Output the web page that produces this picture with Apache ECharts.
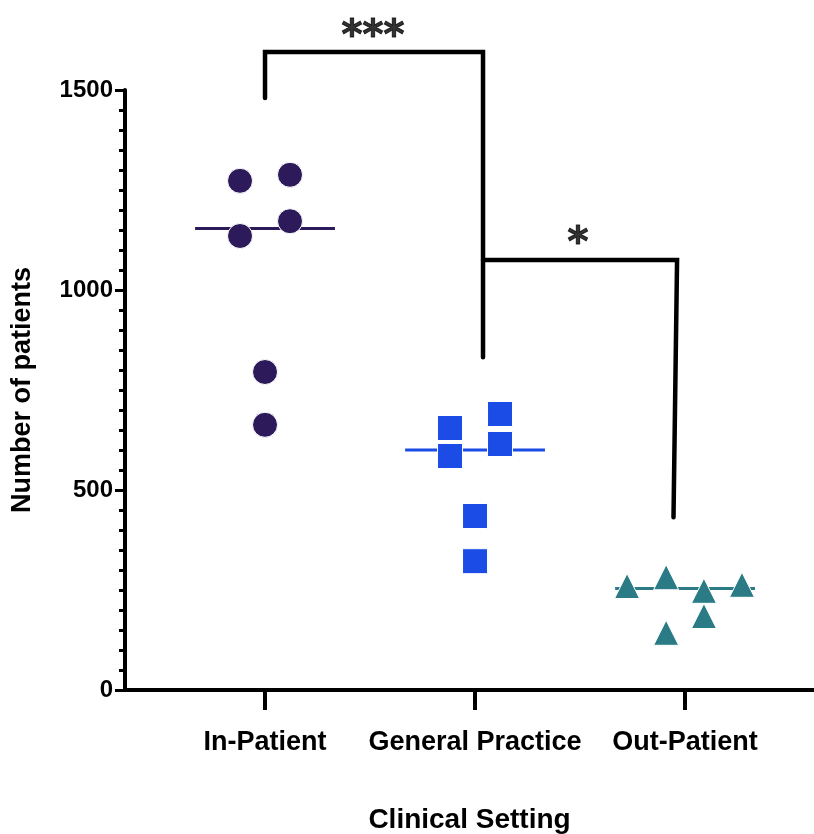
<!DOCTYPE html>
<html>
<head>
<meta charset="utf-8">
<script src="https://cdn.jsdelivr.net/npm/echarts@6/dist/echarts.min.js"></script>
<style>
html,body{margin:0;padding:0;background:#fff;}
#chart{width:814px;height:834px;}
</style>
</head>
<body>
<div id="chart"></div>
<script>
// ---- data ----
const categories = ['In-Patient', 'General Practice', 'Out-Patient'];
const yTicks = [0, 500, 1000, 1500];
const inPatientValues = [1273, 1288, 1135, 1172, 795, 663];
const inPatientJitter = [-0.119, 0.119, -0.119, 0.119, 0, 0];
const generalPracticeValues = [655, 585, 690, 615, 435, 322];
const generalPracticeJitter = [-0.119, -0.119, 0.119, 0.119, 0, 0];
const outPatientValues = [260, 282, 248, 263, 185, 143];
const outPatientJitter = [-0.276, -0.09, 0.09, 0.271, 0.09, -0.09];
const bracketHigh = [[1, 1480], [1, 1595], [2.038, 1595], [2.038, 832]];
const bracketLow = [[2.038, 1075], [2.962, 1075], [2.945, 432]];
const sigLabels = [['***', 1.514, 1631], ['*', 2.49, 1114]];

// ---- build ----
const FONT = '"Liberation Sans", Arial, Helvetica, sans-serif';
const groups = [
  {name: categories[0], values: inPatientValues, jitter: inPatientJitter, symbol: 'circle', color: '#2C1A5A'},
  {name: categories[1], values: generalPracticeValues, jitter: generalPracticeJitter, symbol: 'rect', color: '#1B4DE6'},
  {name: categories[2], values: outPatientValues, jitter: outPatientJitter, symbol: 'triangle', color: '#2A7B85'}
];
function median(arr) {
  const s = arr.slice().sort((a, b) => a - b);
  const n = s.length;
  return n % 2 ? s[(n - 1) / 2] : (s[n / 2 - 1] + s[n / 2]) / 2;
}
const HALF = 0.333;
const series = [];
groups.forEach((g, gi) => {
  const c = gi + 1;
  const m = median(g.values);
  series.push({
    type: 'line', name: g.name + ' median', data: [[c - HALF, m], [c + HALF, m]],
    symbol: 'none', lineStyle: {color: g.color, width: 3}, z: 2, silent: true
  });
  series.push({
    type: 'scatter', name: g.name,
    data: g.values.map((v, i) => [c + g.jitter[i], v]),
    symbol: g.symbol, symbolSize: 25,
    itemStyle: {color: g.color, borderColor: '#ffffff', borderWidth: 1, opacity: 1},
    z: 3
  });
});
[bracketHigh, bracketLow].forEach((b) => {
  series.push({
    type: 'line', data: b, symbol: 'none', clip: false,
    lineStyle: {color: '#000', width: 4.5, cap: 'round', join: 'miter'}, z: 4, silent: true
  });
});
series.push({
  type: 'scatter', clip: false, symbol: 'circle', symbolSize: 2,
  itemStyle: {color: 'rgba(0,0,0,0)'},
  data: sigLabels.map(s => ({value: [s[1], s[2]], name: s[0]})),
  label: {show: true, position: 'inside', formatter: p => p.name, color: '#000',
    fontSize: 40, fontWeight: 'bold', fontFamily: '"DejaVu Sans", sans-serif',
    textBorderColor: '#000', textBorderWidth: 1},
  z: 5, silent: true
});

const chart = echarts.init(document.getElementById('chart'), null, {renderer: 'canvas'});
chart.setOption({
  animation: false,
  backgroundColor: '#ffffff',
  grid: {left: 125, right: 0, top: 90, bottom: 144, containLabel: false, outerBoundsMode: 'none'},
  xAxis: {
    type: 'value', min: 0.3333, max: 3.614,
    name: 'Clinical Setting', nameLocation: 'middle', nameGap: 116,
    nameTextStyle: {fontSize: 28, fontWeight: 'bold', color: '#000', fontFamily: FONT},
    splitLine: {show: false},
    axisLine: {show: true, onZero: false, lineStyle: {color: '#000', width: 4}},
    axisTick: {show: true, customValues: [1, 2, 3], length: 20, lineStyle: {color: '#000', width: 4}},
    axisLabel: {show: true, customValues: [1, 2, 3], margin: 39,
      formatter: v => categories[Math.round(v) - 1] || '',
      fontSize: 27, fontWeight: 'bold', color: '#000', fontFamily: FONT}
  },
  yAxis: {
    type: 'value', min: yTicks[0], max: yTicks[yTicks.length - 1], interval: yTicks[1] - yTicks[0],
    name: 'Number of patients', nameLocation: 'middle', nameGap: 89, nameRotate: 90,
    nameTextStyle: {fontSize: 27, fontWeight: 'bold', color: '#000', fontFamily: FONT},
    splitLine: {show: false},
    axisLine: {show: true, lineStyle: {color: '#000', width: 4}},
    axisTick: {show: true, length: 10, lineStyle: {color: '#000', width: 3}},
    minorTick: {show: true, splitNumber: 10, length: 6, lineStyle: {color: '#000', width: 3}},
    axisLabel: {margin: 12, fontSize: 24, fontWeight: 'bold', color: '#000', fontFamily: FONT,
      formatter: v => String(v)}
  },
  series: series
});
</script>
</body>
</html>
